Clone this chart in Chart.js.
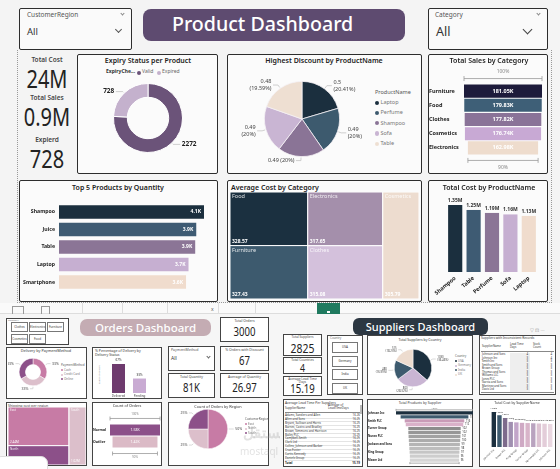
<!DOCTYPE html>
<html>
<head>
<meta charset="utf-8">
<title>Product Dashboard</title>
<script src="https://cdn.jsdelivr.net/npm/chart.js@4.4.1/dist/chart.umd.min.js"></script>
<style>
  body { margin: 0; background: #f4f4f4; font-family: "Noto Sans", sans-serif; }
  #page { position: relative; width: 560px; height: 469px; overflow: hidden; background: #f4f4f4; }
  #page div { position: absolute; box-sizing: border-box; }
  canvas { position: absolute; }
</style>
</head>
<body>
<div id="page"></div>
<script>
// ---- Product dashboard data ----
const kpiLabels = ["Total Cost", "Total Sales", "Expierd"];
const kpiValues = ["24M", "0.9M", "728"];

const expiryLabels = ["Valid", "Expired"];
const expiryValues = [2272, 728];

const discountProducts = ["Laptop", "Perfume", "Shampoo", "Sofa", "Table"];
const discountValues = [0.5, 0.49, 0.49, 0.49, 0.48];

const salesCategories = ["Furniture", "Food", "Clothes", "Cosmetics", "Electronics"];
const salesValues = [181.05, 179.83, 177.82, 176.74, 162.98];

const topProducts = ["Shampoo", "Juice", "Table", "Laptop", "Smartphone"];
const topQuantities = [4120, 3900, 3870, 3680, 3610];

const avgCostCategories = ["Food", "Furniture", "Electronics", "Clothes", "Cosmetics"];
const avgCostValues = [328.57, 327.43, 317.65, 315.08, 305.79];
const avgCostGroups = [[0, 1], [2, 3], [4]];

const costProducts = ["Shampoo", "Table", "Perfume", "Sofa", "Laptop"];
const costValues = [1.35, 1.25, 1.19, 1.16, 1.13];

// ---- Orders dashboard data ----
const orderCategories = ["Clothes", "Electronics", "Furniture", "Cosmetics", "Food"];
const orderKpis = [
  ["Total Orders", "3000"], ["% Orders with Discount", "67"],
  ["Total Quantity", "81K"], ["Average of Quantity", "26.97"]
];
const paymentMethods = ["Cash", "Credit Card", "Online"];
const paymentShares = [33.4, 33.3, 33.3];
const deliveryStatus = ["Delivered", "Pending"];
const deliveryShares = [66.7, 33.3];
const shippingRegions = ["East", "North", "South"];
const shippingCosts = [2.44, 1.22, 1.02];
const shippingGroups = [[0, 1], [2]];
const orderTypes = ["Normal", "Outlier"];
const orderCounts = [1580, 1420];
const regionNames = ["East", "North", "South"];
const regionShares = [50, 25, 25];

// ---- Suppliers dashboard data ----
const supplierKpis = [["Total Suppliers", "2825"], ["Total Countries", "4"], ["Average Lead Time Days", "15.19"]];
const supplierCountries = ["USA", "Germany", "India", "UK"];
const supplierCounts = [1030, 800, 480, 515];
const inconsistentNames = ["Johnson and Sons", "Johnson Inc", "Smith Inc", "Smith and Sons", "Brown Group",
  "Thomas and Sons", "Williams LLC", "Jones PLC", "Garcia and Sons", "Martinez and Sons", "Davis Ltd"];
const inconsistentLead = [4, 3, 3, 3, 3, 3, 3, 3, 3, 3, 3];
const inconsistentStock = [4, 4, 3, 3, 3, 3, 3, 3, 3, 3, 3];
const leadNames = ["Adams, Sanders and Allen", "Allen and Sons", "Bryant, Sullivan and Harris",
  "Barnes, Castro and Bradley", "Brown, Simmons and Harrison", "Bailey PLC", "Campbell-Smith",
  "Clark Ltd", "Collins, Johnson and Barber", "Cruz-Foster", "Curtis-Kennedy", "Daniels Group"];
const leadValues = [16.26, 16.25, 16.25, 16.25, 16.25, 16.25, 16.25, 16.25, 16.25, 16.25, 16.25, 16.25];
const productSuppliers = ["Johnson Inc", "Rodriguez Inc", "Smith PLC", "Bowman, Cole and Wh...", "Turner Group",
  "Brown PLC", "Nunez PLC", "Hernandez LLC", "Jackson and Sons", "Johnson PLC", "King Group", "Walker and Sons", "Moore Ltd"];
const productCounts = [150, 132, 116, 112, 102, 102, 101, 100, 99, 98, 97, 96, 96];
const costSuppliers = ["Johnson Inc", "Smith PLC", "Brown PLC", "Nunez PLC", "King Group", "Moore Ltd",
  "Turner Group", "Walker and Sons", "Hernandez LLC", "Jackson and Sons", "Johnson PLC"];
const costBySupplier = [1.52, 1.38, 1.26, 1.09, 1.07, 1.05, 1.04, 1.03, 1.02, 1.01, 1.0];

// ---- colours ----
const prodColors = ["#1b2f3e", "#3e5b73", "#8b7596", "#c6afd1", "#f0dccd"];
const salesColors = ["#1d1b3b", "#3e5f77", "#8a7398", "#c8a9d4", "#eedccd"];
const pieColors = ["#1b2f3e", "#3d5a6e", "#8a7496", "#c9b5d3", "#eedfd2"];
const treeColors = ["#1b3040", "#3d5a6e", "#a48fab", "#d4c1dc", "#eddccf"];
const pinkColors = ["#c77ba5", "#8c5089", "#dcbfcb"];
const funnelColors = ["#1b2f3e", "#3d5a6e", "#c99bb7", "#d9b1c9", "#8c8c8c", "#979797", "#a2a2a2",
  "#acacac", "#b5b5b5", "#bdbdbd", "#c5c5c5", "#cdcdcd", "#d5d5d5"];
const columnColors = ["#1b2f3e", "#3d5a6e", "#7d6b8c", "#a08fb0", "#c2a5c9", "#cfa9c4", "#d8b4c9",
  "#b9a3bf", "#dcc3d2", "#e3cdd9", "#ead8e1"];

const page = document.getElementById("page");
const sumOf = a => a.reduce((s, v) => s + v, 0);
const pct = (v, arr, d) => +(v / sumOf(arr) * 100).toFixed(d);
const narrow = "transform:scaleX(0.8);transform-origin:50% 50%;";
const noGrid = { display: false, drawTicks: false };

function el(x, y, w, h, css, str) {
  const d = document.createElement("div");
  d.style.cssText = `left:${x}px;top:${y}px;` + (w != null ? `width:${w}px;` : "") +
    (h != null ? `height:${h}px;` : "") + (css || "");
  if (str != null) d.textContent = str;
  page.appendChild(d);
  return d;
}
function card(x, y, w, h, css) {
  return el(x, y, w, h, "border:1.5px solid #2d2d2d;background:#fbfbfb;border-radius:2px;" + (css || ""));
}
function smallCard(x, y, w, h) {
  return el(x, y, w, h, "border:1px solid #444;background:#fff;");
}
function text(x, y, str, size, css) {
  return el(x, y, null, null, `font-size:${size}px;line-height:1;white-space:nowrap;color:#222;` + (css || ""), str);
}
function ctext(cx, y, str, size, css) {
  return el(cx - 100, y, 200, null, `font-size:${size}px;line-height:1;white-space:nowrap;text-align:center;color:#222;` + (css || ""), str);
}
function chev(x, y, s, color) {
  el(x, y, s, s, `border-right:1px solid ${color};border-bottom:1px solid ${color};transform:rotate(45deg);`);
}
function makeChart(x, y, w, h, config) {
  const c = document.createElement("canvas");
  c.width = w; c.height = h;
  c.style.cssText = `left:${x}px;top:${y}px;width:${w}px;height:${h}px;`;
  page.appendChild(c);
  return new Chart(c, config);
}
// padding that puts a pie of radius r centred at (cx, cy) inside a w x h canvas
function padAt(w, h, cx, cy, r) {
  return { left: cx - r, top: cy - r, right: w - (cx + r), bottom: h - (cy + r) };
}
function legend(x, y, title, names, colors, size, step) {
  text(x, y, title, size, "color:#555;");
  names.forEach((n, i) => {
    el(x, y + step * (i + 1) + 0.5, size * 0.8, size * 0.8, `border-radius:50%;background:${colors[i]};`);
    text(x + size, y + step * (i + 1), n, size, "color:#777;");
  });
}

Chart.defaults.font.family = '"Noto Sans", sans-serif';
Chart.defaults.color = "#222";
Chart.defaults.animation = false;
Chart.defaults.responsive = false;
Chart.defaults.plugins.legend.display = false;
Chart.defaults.plugins.tooltip.enabled = false;

// value labels on bars
const barLabels = {
  id: "barLabels",
  afterDatasetsDraw(chart, args, o) {
    if (!o.text) return;
    const ctx = chart.ctx, horiz = chart.options.indexAxis === "y";
    chart.getDatasetMeta(0).data.forEach((b, i) => {
      ctx.save();
      ctx.font = o.font;
      ctx.fillStyle = Array.isArray(o.color) ? o.color[i] : o.color;
      ctx.textBaseline = "middle";
      let x = b.x, y = b.y;
      if (o.pos === "center") {
        ctx.textAlign = "center";
        if (horiz) x = (b.x + b.base) / 2; else y = (b.y + b.base) / 2;
      } else if (o.pos === "inEnd") {
        ctx.textAlign = "right"; x = b.x - 3;
      } else if (o.pos === "top") {
        ctx.textAlign = "center"; ctx.textBaseline = "bottom"; y = b.y - 2;
      } else if (o.pos === "right") {
        ctx.textAlign = "left"; x = Math.max(b.x, b.base) + 1.5;
      }
      ctx.fillText(o.text(i), x, y);
      ctx.restore();
    });
  }
};

// outside labels with leader lines for pies
const pieLabels = {
  id: "pieLabels",
  afterDatasetsDraw(chart, args, o) {
    if (!o.text) return;
    const ctx = chart.ctx;
    chart.getDatasetMeta(0).data.forEach((a, i) => {
      const mid = (a.startAngle + a.endAngle) / 2;
      const cos = Math.cos(mid), sin = Math.sin(mid), r = a.outerRadius;
      const x0 = a.x + cos * (r + 1), y0 = a.y + sin * (r + 1);
      const x1 = a.x + cos * (r + o.out), y1 = a.y + sin * (r + o.out);
      const right = cos >= 0;
      const x2 = x1 + (right ? o.tail : -o.tail);
      ctx.save();
      if (o.lineColor) {
        ctx.strokeStyle = o.lineColor; ctx.lineWidth = 0.7;
        ctx.beginPath(); ctx.moveTo(x0, y0); ctx.lineTo(x1, y1); ctx.lineTo(x2, y1); ctx.stroke();
      }
      ctx.fillStyle = o.color; ctx.font = o.font;
      ctx.textAlign = right ? "left" : "right"; ctx.textBaseline = "middle";
      const lines = o.text(i, cos).split("\n");
      lines.forEach((ln, k) => ctx.fillText(ln, x2 + (right ? 1.5 : -1.5), y1 + (k - (lines.length - 1) / 2) * o.lh));
      ctx.restore();
    });
  }
};

// 100% / last% guide lines above and below a funnel
const funnelAxis = {
  id: "funnelAxis",
  afterDatasetsDraw(chart, args, o) {
    if (!o.font) return;
    const bars = chart.getDatasetMeta(0).data, ctx = chart.ctx;
    const vals = chart.data.datasets[0].data;
    const first = bars[0], last = bars[bars.length - 1];
    const lastPct = Math.round((vals[vals.length - 1][1] - vals[vals.length - 1][0]) / (vals[0][1] - vals[0][0]) * 100);
    const draw = (b, y, ty, label) => {
      const x0 = Math.min(b.x, b.base), x1 = Math.max(b.x, b.base);
      ctx.save();
      ctx.strokeStyle = "#999"; ctx.lineWidth = 0.8;
      ctx.beginPath();
      ctx.moveTo(x0, y); ctx.lineTo(x1, y);
      ctx.moveTo(x0, y - o.tick); ctx.lineTo(x0, y + o.tick);
      ctx.moveTo(x1, y - o.tick); ctx.lineTo(x1, y + o.tick);
      ctx.stroke();
      ctx.fillStyle = "#888"; ctx.font = o.font; ctx.textAlign = "center"; ctx.textBaseline = "middle";
      ctx.fillText(label, (x0 + x1) / 2, ty);
      ctx.restore();
    };
    const ft = first.y - first.height / 2 - o.gap, lb = last.y + last.height / 2 + o.gap;
    draw(first, ft, ft - o.textGap, "100%");
    draw(last, lb, lb + o.textGap, lastPct + "%");
  }
};

// treemap cells laid out in columns, drawn through the chart's linear scales
const treemap = {
  id: "treemap",
  beforeDatasetsDraw(chart, args, o) {
    if (!o.values) return;
    const xs = chart.scales.x, ys = chart.scales.y, ctx = chart.ctx;
    const total = sumOf(o.values);
    let cx = 0;
    o.groups.forEach(g => {
      const gsum = sumOf(g.map(i => o.values[i]));
      const gw = gsum / total;
      let cy = 0;
      g.forEach(i => {
        const hh = o.values[i] / gsum;
        const x0 = xs.getPixelForValue(cx), x1 = xs.getPixelForValue(cx + gw);
        const y0 = ys.getPixelForValue(cy), y1 = ys.getPixelForValue(cy + hh);
        ctx.save();
        ctx.fillStyle = o.colors[i];
        ctx.fillRect(x0, y0, x1 - x0, y1 - y0);
        ctx.strokeStyle = "#fff"; ctx.lineWidth = 1;
        ctx.strokeRect(x0, y0, x1 - x0, y1 - y0);
        ctx.fillStyle = o.labelColor; ctx.font = o.font;
        ctx.textAlign = "left"; ctx.textBaseline = "top";
        ctx.fillText(o.labels[i], x0 + 2, y0 + 2);
        if (o.valueText) {
          ctx.fillStyle = "#fff"; ctx.font = o.valueFont; ctx.textBaseline = "bottom";
          ctx.fillText(o.valueText(i), x0 + 2, y1 - 2);
        }
        ctx.restore();
        cy += hh;
      });
      cx += gw;
    });
  }
};

function treemapChart(x, y, w, h, opts) {
  return makeChart(x, y, w, h, {
    type: "scatter",
    data: { datasets: [{ data: [] }] },
    options: {
      scales: {
        x: { type: "linear", display: false, min: 0, max: 1 },
        y: { type: "linear", display: false, min: 0, max: 1, reverse: true }
      },
      plugins: { treemap: opts }
    },
    plugins: [treemap]
  });
}

function funnelChart(x, y, w, h, labels, values, colors, o) {
  const max = Math.max(...values);
  return makeChart(x, y, w, h, {
    type: "bar",
    data: {
      labels: labels,
      datasets: [{ data: values.map(v => [-v / 2, v / 2]), backgroundColor: colors,
        barPercentage: o.bar, categoryPercentage: 1 }]
    },
    options: {
      indexAxis: "y",
      layout: { padding: o.padding },
      scales: {
        x: { display: false, min: -max / 2, max: max / 2 },
        y: { grid: noGrid, border: { display: false },
          ticks: { font: o.tickFont, color: "#222", crossAlign: "far", padding: 1 },
          afterFit: s => { s.width = o.axisWidth; } }
      },
      plugins: { barLabels: o.labels, funnelAxis: o.axis }
    },
    plugins: [barLabels, funnelAxis]
  });
}

// =================== PRODUCT DASHBOARD ===================
el(17, 50, 535, 253, "border-left:1px dotted #999;border-right:1px dotted #999;border-bottom:1px dotted #999;");

// slicers
card(19, 8, 113, 42, "background:#fafafa;");
text(27, 12, "CustomerRegion", 6.5, "color:#555;");
chev(121, 12, 3, "#888");
text(27, 27, "All", 9.5, "color:#333;");
chev(116, 27, 5, "#555");

card(428, 8, 120, 42, "background:#fafafa;");
text(435, 12, "Category", 6.5, "color:#555;");
chev(537, 12, 3, "#888");
text(436, 26, "All", 12.5, "color:#333;");
chev(524, 26, 7, "#444");

// title banner
el(143, 9, 262, 32, "background:#5e4b70;border-radius:8px;");
text(172, 14, "Product Dashboard", 19.6, "color:#fff;font-weight:500;");

// KPI column
const kpiTops = [57, 95, 137];
kpiLabels.forEach((lab, i) => {
  el(17, kpiTops[i], 60, null, "text-align:center;font-size:6.5px;line-height:1;font-weight:600;color:#444;", lab);
  el(12, kpiTops[i] + 9, 70, null, "text-align:center;font-size:25px;line-height:1;color:#222;" + narrow, kpiValues[i]);
});

// Expiry Status per Product
card(77, 54, 141, 120);
ctext(148, 56.5, "Expiry Status per Product", 7, "font-weight:600;");
text(106, 69, "ExpiryChe...", 5, "font-weight:700;color:#333;");
expiryLabels.forEach((n, i) => {
  const lx = 137 + i * 20;
  el(lx, 70.5, 4, 4, `border-radius:50%;background:${["#6b5379", "#c4b1cd"][i]};`);
  text(lx + 5, 69, n, 5, "color:#666;");
});
makeChart(79, 78, 137, 94, {
  type: "doughnut",
  data: { labels: expiryLabels, datasets: [{ data: expiryValues, backgroundColor: ["#6b5379", "#c4b1cd"], borderWidth: 1, borderColor: "#fff" }] },
  options: {
    cutout: "60%",
    layout: { padding: padAt(137, 94, 69, 40, 35) },
    plugins: { pieLabels: { text: i => String(expiryValues[i]), font: "bold 6.5px 'Noto Sans'", color: "#222", lineColor: "#bbb", out: 2, tail: 7, lh: 7 } }
  },
  plugins: [pieLabels]
});

// Highest Discount by ProductName
card(227, 54, 195, 120);
ctext(324, 56.5, "Highest Discount by ProductName", 7, "font-weight:600;");
legend(375, 90, "ProductName", discountProducts, pieColors, 5.5, 10.2);
makeChart(228, 66, 192, 106, {
  type: "pie",
  data: { labels: discountProducts, datasets: [{ data: discountValues, backgroundColor: pieColors, borderWidth: 0.8, borderColor: "#f4f0f4" }] },
  options: {
    layout: { padding: padAt(192, 106, 74, 53, 38) },
    plugins: {
      pieLabels: {
        text: (i, cos) => discountValues[i] + (Math.abs(cos) < 0.2 ? " " : "\n") + "(" + pct(discountValues[i], discountValues, 2) + "%)",
        font: "5.5px 'Noto Sans'", color: "#444", lineColor: "#bbb", out: 4, tail: 5, lh: 7
      }
    }
  },
  plugins: [pieLabels]
});

// Total Sales by Category (funnel)
card(428, 54, 120, 120);
ctext(489, 56.5, "Total Sales by Category", 7, "font-weight:600;");
funnelChart(429, 64, 118, 108, salesCategories, salesValues, salesColors, {
  bar: 0.92, axisWidth: 35, padding: { top: 20, right: 5, bottom: 17 },
  tickFont: { size: 5.5, weight: "bold" },
  labels: { pos: "center", font: "bold 5.5px 'Noto Sans'", color: "#fff", text: i => salesValues[i].toFixed(2) + "K" },
  axis: { font: "5px 'Noto Sans'", gap: 6, textGap: 7, tick: 2.5 }
});

// Top 5 Products by Quantity
card(19, 180, 199, 122);
ctext(118, 183.5, "Top 5 Products by Quantity", 7, "font-weight:600;");
makeChart(20, 196, 197, 102, {
  type: "bar",
  data: { labels: topProducts, datasets: [{ data: topQuantities, backgroundColor: prodColors, barPercentage: 0.77, categoryPercentage: 1 }] },
  options: {
    indexAxis: "y",
    layout: { padding: { top: 5, right: 13, bottom: 5 } },
    scales: {
      x: { display: false, min: 0, max: Math.max(...topQuantities) },
      y: { grid: noGrid, border: { display: false },
        ticks: { font: { size: 5.2, weight: "bold" }, color: "#222", padding: 4 },
        afterFit: s => { s.width = 39; } }
    },
    plugins: { barLabels: { pos: "inEnd", font: "bold 5px 'Noto Sans'", color: "#fff", text: i => (topQuantities[i] / 1000).toFixed(1) + "K" } }
  },
  plugins: [barLabels]
});

// Average Cost by Category (treemap)
card(227, 180, 195, 122);
text(231, 183.5, "Average Cost by Category", 7, "font-weight:600;");
treemapChart(230, 192, 189, 107, {
  values: avgCostValues, groups: avgCostGroups, colors: treeColors, labels: avgCostCategories,
  labelColor: "rgba(255,255,255,0.85)", font: "5.5px 'Noto Sans'", valueFont: "bold 5px 'Noto Sans'",
  valueText: i => avgCostValues[i].toFixed(2)
});

// Total Cost by ProductName
card(428, 180, 120, 122);
ctext(489, 183.5, "Total Cost by ProductName", 7, "font-weight:600;");
makeChart(428, 192, 120, 108, {
  type: "bar",
  data: { labels: costProducts, datasets: [{ data: costValues, backgroundColor: prodColors, barPercentage: 0.77, categoryPercentage: 1 }] },
  options: {
    layout: { padding: { left: 18, right: 10, top: 13 } },
    scales: {
      y: { display: false, min: 0, max: Math.max(...costValues) },
      x: { grid: noGrid, border: { display: false },
        ticks: { font: { size: 5.5, weight: "bold" }, color: "#222", maxRotation: 40, minRotation: 40, padding: 3 },
        afterFit: s => { s.height = 28; } }
    },
    plugins: { barLabels: { pos: "top", font: "bold 5px 'Noto Sans'", color: "#333", text: i => costValues[i].toFixed(2) + "M" } }
  },
  plugins: [barLabels]
});

// =================== STRIP BETWEEN PAGES ===================
el(0, 303, 560, 11, "background:#fafafa;border-bottom:1px solid #ddd;");
el(12, 306, 12, 8, "border:1px solid #999;border-bottom:none;");
el(41, 306, 9, 8, "border:1px solid #999;border-bottom:none;");
[82, 122, 167, 218, 255].forEach(x => el(x, 303, 1, 11, "background:#ddd;"));
text(211, 307, "x", 5, "color:#555;");
el(317, 303, 23, 11, "background:#1f7a5f;");
el(327, 311, 3, 2, "background:#fff;");

// =================== ORDERS DASHBOARD ===================
el(5, 314, 275, 155, "background:#f6f6f6;");
smallCard(6, 318, 63, 27);
text(8, 319, "Category", 2.5, "color:#777;");
orderCategories.forEach((c, i) => {
  const row = i < 3 ? 0 : 1, col = i % 3;
  el(11 + col * 18, 322 + row * 12, 17, 10, "border:1px solid #777;background:#fff;font-size:3px;line-height:8px;text-align:center;color:#333;", c);
});
el(80, 319, 131, 17, "background:#c4acb3;border-radius:7px;");
el(80, 322, 131, null, "text-align:center;font-size:11.5px;line-height:1;color:#fff;font-weight:500;", "Orders Dashboard");

const orderKpiBoxes = [[220, 317, 49, 25], [220, 346, 49, 25], [168, 373, 47, 25], [220, 373, 49, 25]];
orderKpis.forEach((k, i) => {
  const [x, y, w, h] = orderKpiBoxes[i];
  smallCard(x, y, w, h);
  el(x, y + 2, w, null, "text-align:center;font-size:3.5px;line-height:1;color:#444;", k[0]);
  el(x, y + 9, w, null, "text-align:center;font-size:12px;line-height:1;color:#222;" + narrow, k[1]);
});
smallCard(168, 346, 47, 25);
text(171, 348, "PaymentMethod", 3.5, "color:#555;");
text(171, 356, "All", 5, "color:#333;");
chev(207, 355, 3, "#666");

// delivery by payment method donut
const paymentColors = [pinkColors[0], pinkColors[2], pinkColors[1]];
smallCard(6, 347, 81, 52);
ctext(46, 349, "Delivery by PaymentMethod", 3.8, "color:#333;");
legend(61, 364, "PaymentMethod", paymentMethods, paymentColors, 3, 4.5);
makeChart(8, 354, 78, 43, {
  type: "doughnut",
  data: { labels: paymentMethods, datasets: [{ data: paymentShares, backgroundColor: paymentColors, borderWidth: 0.5 }] },
  options: {
    cutout: "55%",
    layout: { padding: padAt(78, 43, 25, 18, 14) },
    plugins: { pieLabels: { text: i => Math.round(paymentShares[i]) + "%", font: "3.5px 'Noto Sans'", color: "#444", lineColor: "#ccc", out: 3, tail: 3, lh: 4 } }
  },
  plugins: [pieLabels]
});

// delivery status bars
smallCard(92, 347, 70, 52);
text(95, 349, "% Percentage of Delivery by", 3.5, "color:#333;");
text(95, 353, "Delivery Status", 3.5, "color:#333;");
el(92, 376, 14, null, "font-size:2.5px;line-height:1;color:#777;transform:rotate(-90deg);white-space:nowrap;", "Count of Orders");
makeChart(100, 355, 58, 44, {
  type: "bar",
  data: { labels: deliveryStatus, datasets: [{ data: deliveryShares, backgroundColor: ["#6e3b6e", "#c9abd3"], barPercentage: 0.62, categoryPercentage: 1 }] },
  options: {
    layout: { padding: { left: 8, right: 8, top: 9 } },
    scales: {
      y: { display: false, min: 0, max: Math.max(...deliveryShares) },
      x: { grid: noGrid, border: { display: false }, ticks: { font: { size: 3 }, color: "#444", padding: 1.5 },
        afterFit: s => { s.height = 6; } }
    },
    plugins: { barLabels: { pos: "top", font: "3px 'Noto Sans'", color: "#333", text: i => Math.round(deliveryShares[i]) + "%" } }
  },
  plugins: [barLabels]
});

// shipping cost treemap
smallCard(6, 402, 81, 64);
text(8, 403.5, "Shipping cost per region", 3.5, "color:#333;");
treemapChart(8, 407, 78, 58, {
  values: shippingCosts, groups: shippingGroups, colors: pinkColors, labels: shippingRegions,
  labelColor: "rgba(255,255,255,0.9)", font: "3px 'Noto Sans'", valueFont: "3px 'Noto Sans'",
  valueText: i => shippingCosts[i].toFixed(2) + "M"
});

// count of orders funnel
smallCard(92, 402, 70, 64);
ctext(127, 404, "Count of Orders", 3.8, "color:#333;");
funnelChart(93, 405, 68, 60, orderTypes, orderCounts, ["#8c5089", "#dbbac6"], {
  bar: 0.92, axisWidth: 17, padding: { top: 19, right: 1, bottom: 17 },
  tickFont: { size: 3.5, weight: "bold" },
  labels: { pos: "center", font: "3.5px 'Noto Sans'", color: "#fff", text: i => (orderCounts[i] / 1000).toFixed(2) + "K" },
  axis: { font: "3px 'Noto Sans'", gap: 6, textGap: 4, tick: 2 }
});

// count of orders by region pie
smallCard(168, 402, 101, 64);
ctext(218, 404.5, "Count of Orders by Region", 3.8, "color:#333;");
legend(245, 418, "CustomerRegion", regionNames, paymentColors, 3, 4.5);
makeChart(170, 408, 97, 56, {
  type: "pie",
  data: { labels: regionNames, datasets: [{ data: regionShares, backgroundColor: paymentColors, borderWidth: 0.5 }] },
  options: {
    layout: { padding: padAt(97, 56, 38, 21, 20) },
    plugins: { pieLabels: { text: i => regionShares[i] + "%", font: "3.5px 'Noto Sans'", color: "#444", lineColor: "#ccc", out: 3, tail: 3, lh: 4 } }
  },
  plugins: [pieLabels]
});

// watermark
text(243, 425, "مستقل", 15, "color:rgba(150,150,150,0.28);font-weight:700;");
text(240, 446, "mostaql", 10, "color:rgba(150,150,150,0.28);");
el(-6, 456, 54, 20, "background:#fff;border:1px solid #ddd;border-radius:7px;");

// =================== SUPPLIERS DASHBOARD ===================
el(280, 314, 280, 155, "background:#f6f6f6;");
el(353, 318, 135, 17, "background:#2c3742;border-radius:6px;");
el(353, 321, 135, null, "text-align:center;font-size:11px;line-height:1;color:#fff;font-weight:500;", "Suppliers Dashboard");
text(530, 328, "▽ ⊡ ···", 5, "color:#999;");

const supplierKpiBoxes = [[283, 334, 39, 22, 13], [283, 357, 39, 17, 11], [283, 376, 39, 20, 12]];
supplierKpis.forEach((k, i) => {
  const [x, y, w, h, fs] = supplierKpiBoxes[i];
  smallCard(x, y, w, h);
  el(x + 2, y + 1.5, w - 4, null, "text-align:center;font-size:3.2px;line-height:1.1;color:#444;white-space:normal;", k[0]);
  el(x, y + h - fs - 1, w, null, "text-align:center;line-height:1;color:#222;" + narrow + "font-size:" + fs + "px;", k[1]);
});

smallCard(327, 335, 36, 60);
text(330, 337, "Country", 3, "color:#666;");
supplierCountries.forEach((c, i) => {
  el(332, 342 + i * 13.5, 26, 11, "border:1px solid #777;background:#fff;font-size:3px;line-height:9px;text-align:center;color:#333;", c);
});

// suppliers by country pie
smallCard(367, 335, 106, 60);
ctext(420, 337.5, "Total Suppliers by Country", 3.5, "color:#333;");
const countryColors = ["#1b2f3e", "#c9b5d3", "#3d5a6e", "#eddccf"];
legend(455, 355, "Country", supplierCountries, countryColors, 3, 4.5);
makeChart(369, 341, 84, 53, {
  type: "pie",
  data: { labels: supplierCountries, datasets: [{ data: supplierCounts, backgroundColor: countryColors, borderWidth: 0.5 }] },
  options: {
    layout: { padding: padAt(84, 53, 44, 27, 19) },
    plugins: { pieLabels: { text: i => supplierCounts[i] + "\n(" + pct(supplierCounts[i], supplierCounts, 2) + "%)", font: "2.8px 'Noto Sans'", color: "#444", lineColor: "#ccc", out: 3, tail: 3, lh: 3.2 } }
  },
  plugins: [pieLabels]
});

// inconsistent records table
smallCard(479, 335, 77, 60);
text(481, 337, "Suppliers with Inconsistent Records", 3.2, "color:#333;");
el(481, 343, 73, 9, "border-bottom:1px solid #888;");
text(482, 345, "SupplierName", 2.8, "color:#333;");
el(510, 343, 20, null, "font-size:2.8px;line-height:1.1;color:#333;white-space:pre;", "Lead Time\nDays");
el(533, 343, 20, null, "font-size:2.8px;line-height:1.1;color:#333;white-space:pre;", "Stock\nCount");
el(510, 353, 20, 40, "background:#eeeeee;");
inconsistentNames.forEach((n, i) => {
  const y = 353 + i * 3.5;
  text(482, y, n, 2.8, "color:#333;");
  el(512, y, 16, null, "font-size:2.8px;line-height:1;text-align:right;color:#333;", String(inconsistentLead[i]));
  el(536, y, 16, null, "font-size:2.8px;line-height:1;text-align:right;color:#333;", String(inconsistentStock[i]));
});
el(481, 392, 73, 1, "background:#888;");

// average lead time table
smallCard(283, 399, 80, 68);
text(285, 401, "Average Lead Time Per Suppliers", 3.3, "color:#333;");
text(285, 407, "SupplierName", 3, "color:#333;");
el(328, 404, 30, null, "font-size:3px;line-height:1.1;color:#333;white-space:pre;", "Average of\nLeadTimeDays");
el(285, 412, 75, 1, "background:#888;");
el(360, 405, 2, 9, "background:#bbb;");
leadNames.forEach((n, i) => {
  const y = 414 + i * 3.9;
  text(285, y, n, 2.9, "color:#333;");
  el(340, y, 20, null, "font-size:2.9px;line-height:1;text-align:right;color:#333;", leadValues[i].toFixed(2));
  el(285, y + 3.5, 75, 0.5, "background:#e4e4e4;");
});
text(285, 462, "Total", 3, "color:#222;font-weight:700;");
el(340, 462, 20, null, "font-size:3px;line-height:1;text-align:right;color:#222;font-weight:700;", "15.19");

// products by supplier funnel
smallCard(367, 399, 106, 68);
ctext(420, 401, "Total Products by Supplier", 3.5, "color:#333;");
funnelChart(368, 403, 105, 62, productSuppliers, productCounts, funnelColors, {
  bar: 0.82, axisWidth: 28, padding: { top: 8, right: 0, bottom: 3 },
  tickFont: { size: 2.8, weight: "bold" },
  labels: { pos: "right", font: "2.6px 'Noto Sans'", color: "#333", text: i => String(productCounts[i]) },
  axis: { font: "2.5px 'Noto Sans'", gap: 1.5, textGap: 2, tick: 1 }
});

// total cost by supplier columns
smallCard(479, 399, 77, 68);
ctext(517, 401, "Total Cost by SupplierName", 3.5, "color:#333;");
makeChart(481, 405, 74, 60, {
  type: "bar",
  data: { labels: costSuppliers, datasets: [{ data: costBySupplier, backgroundColor: columnColors, barPercentage: 0.78, categoryPercentage: 1 }] },
  options: {
    layout: { padding: { left: 10, right: 2, top: 7 } },
    scales: {
      y: { display: false, min: 0, max: Math.max(...costBySupplier) },
      x: { grid: noGrid, border: { display: false },
        ticks: { font: { size: 2.6 }, color: "#333", maxRotation: 45, minRotation: 45, padding: 1.5 },
        afterFit: s => { s.height = 18; } }
    },
    plugins: { barLabels: { pos: "top", font: "2.4px 'Noto Sans'", color: "#333", text: i => costBySupplier[i].toFixed(2) + "M" } }
  },
  plugins: [barLabels]
});
</script>
</body>
</html>
